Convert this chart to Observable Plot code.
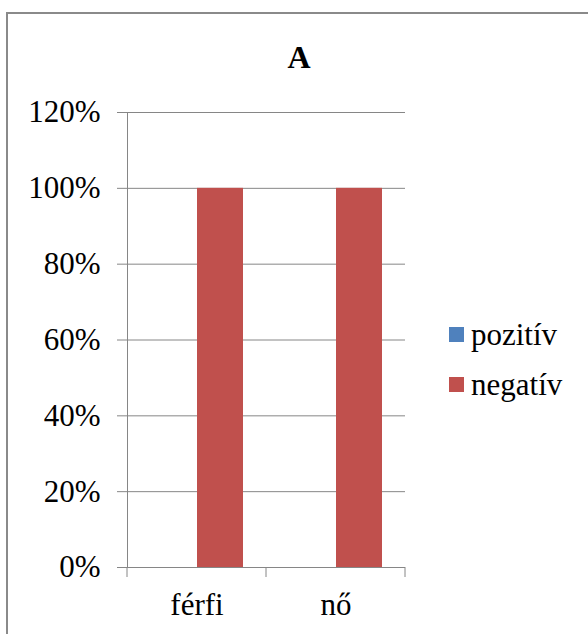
<!DOCTYPE html>
<html>
<head>
<meta charset="utf-8">
<script src="https://cdn.jsdelivr.net/npm/d3@7"></script>
<script src="https://cdn.jsdelivr.net/npm/@observablehq/plot@0.6"></script>
<style>
  html, body { margin: 0; padding: 0; background: #fff; }
  #wrap { --ff: "Liberation Serif", "Times New Roman", serif; position: relative; width: 588px; height: 634px; overflow: hidden; font-family: var(--ff); }
  #border { position: absolute; left: 6px; top: 12px; width: 700px; height: 700px; border-top: 2px solid #8a8a8a; border-left: 2px solid #8a8a8a; }
  #chart { position: absolute; left: 0; top: 0; }
  #chart svg, #chart svg text { font-family: var(--ff) !important; }
  #chart svg text { fill: #000; }
  #title { position: absolute; left: 249px; top: 41px; width: 100px; text-align: center; font-weight: bold; font-size: 32px; line-height: 32px; color: #000; font-family: var(--ff); }
  .lg-sw { position: absolute; width: 15px; height: 15px; }
  .lg-tx { position: absolute; font-size: 31px; line-height: 31px; color: #000; white-space: nowrap; font-family: var(--ff); }
</style>
</head>
<body>
<div id="wrap">
  <div id="border"></div>
  <div id="chart"></div>
  <div id="title">A</div>
  <div id="legend"></div>
</div>
<script>
const categories = ["férfi", "nő"];
const series = ["pozitív", "negatív"];
const pozitiv = [0, 0];
const negativ = [1, 1];
const colors = ["#4F81BD", "#C0504D"];
const yTicks = [0, 0.2, 0.4, 0.6, 0.8, 1.0, 1.2];

const data = categories.flatMap((c, i) => [
  {category: c, series: series[0], value: pozitiv[i]},
  {category: c, series: series[1], value: negativ[i]}
]);

const gray = "#868686";

const plot = Plot.plot({
  width: 588,
  height: 634,
  marginLeft: 127,
  marginRight: 183,
  marginTop: 112,
  marginBottom: 67,
  style: {fontSize: "31px", color: gray, background: "transparent", overflow: "visible"},
  fx: {domain: categories, padding: 0, axis: "bottom", label: null, tickSize: 0, tickPadding: 25},
  x: {domain: series, paddingInner: 0, paddingOuter: 0.5, axis: null},
  y: {domain: [0, 1.2], ticks: yTicks, tickFormat: d3.format(".0%"), tickSize: 10, tickPadding: 17, label: null, line: true},
  color: {domain: series, range: colors},
  marks: [
    Plot.ruleY(yTicks, {stroke: gray, strokeWidth: 1}),
    Plot.barY(data, {fx: "category", x: "series", y: "value", fill: "series"})
  ]
});

document.getElementById("chart").appendChild(plot);

const svgEl = plot.tagName.toLowerCase() === "svg" ? plot : plot.querySelector("svg");
const svg = d3.select(svgEl);
svg.selectAll("text").attr("fill", "#000");

// category boundary tick marks below the baseline (Excel style)
const fxs = plot.scale("fx");
const ys = plot.scale("y");
const band = d3.scaleBand(fxs.domain, fxs.range)
  .paddingInner(fxs.paddingInner || 0)
  .paddingOuter(fxs.paddingOuter || 0);
const y0 = d3.scaleLinear(ys.domain, ys.range)(0);
const edges = fxs.domain.map(d => band(d)).concat([band(fxs.domain[fxs.domain.length - 1]) + band.bandwidth()]);
svg.append("g").selectAll("line").data(edges).join("line")
  .attr("x1", d => d).attr("x2", d => d)
  .attr("y1", y0).attr("y2", y0 + 10)
  .attr("stroke", gray);

// legend
const legend = document.getElementById("legend");
series.forEach((s, i) => {
  const sw = document.createElement("div");
  sw.className = "lg-sw";
  sw.style.left = "449px";
  sw.style.top = (327 + 50 * i) + "px";
  sw.style.background = colors[i];
  legend.appendChild(sw);
  const tx = document.createElement("div");
  tx.className = "lg-tx";
  tx.style.left = "471px";
  tx.style.top = (319 + 50 * i) + "px";
  tx.textContent = s;
  legend.appendChild(tx);
});

// re-request the serif face a little later, in case the first font lookup fell back
const wrap = document.getElementById("wrap");
const stacks = ['"Times New Roman", "Liberation Serif", serif', '"Liberation Serif", Tinos, serif', 'serif'];
stacks.forEach((st, i) => setTimeout(() => {
  if (document.fonts && document.fonts.check && !document.fonts.check('31px "Liberation Serif"')) return;
  wrap.style.setProperty("--ff", st);
}, 80 + 120 * i));
</script>
</body>
</html>
